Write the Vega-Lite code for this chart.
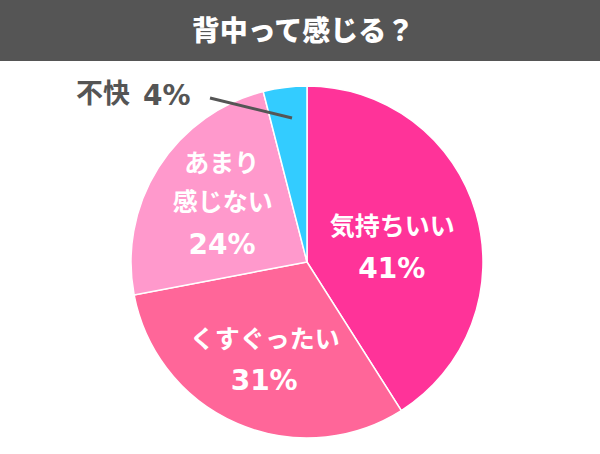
{
  "$schema": "https://vega.github.io/schema/vega-lite/v6.json",
  "width": 600,
  "height": 454,
  "padding": 0,
  "autosize": {"type": "none"},
  "background": "white",
  "config": {"view": {"stroke": null}},
  "data": {"values": [
    {"category": "気持ちいい", "line1": "", "line2": "気持ちいい", "value": 41, "rank": 1},
    {"category": "くすぐったい", "line1": "", "line2": "くすぐったい", "value": 31, "rank": 2},
    {"category": "あまり感じない", "line1": "あまり", "line2": "感じない", "value": 24, "rank": 3},
    {"category": "不快", "line1": "", "line2": "不快", "value": 4, "rank": 4}
  ]},
  "transform": [{"calculate": "datum.value + '%'", "as": "pct"}],
  "layer": [
    {
      "data": {"values": [{"title": "背中って感じる？"}]},
      "mark": {"type": "rect", "color": "#555555"},
      "encoding": {
        "x": {"datum": 0, "type": "quantitative", "scale": {"domain": [0, 600], "nice": false, "zero": false}, "axis": null},
        "x2": {"datum": 600},
        "y": {"datum": 0, "type": "quantitative", "scale": {"domain": [0, 454], "nice": false, "zero": false, "reverse": true}, "axis": null},
        "y2": {"datum": 61}
      }
    },
    {
      "data": {"values": [{"title": "背中って感じる？"}]},
      "mark": {"type": "text", "color": "white", "font": "Noto Sans CJK JP", "fontWeight": 900, "fontSize": 28, "align": "center", "baseline": "middle"},
      "encoding": {
        "x": {"datum": 303, "type": "quantitative"},
        "y": {"datum": 33, "type": "quantitative"},
        "text": {"field": "title"}
      }
    },
    {
      "mark": {"type": "arc", "radius": 176, "stroke": "white", "strokeWidth": 1.5},
      "encoding": {
        "x": {"datum": 307, "type": "quantitative"},
        "y": {"datum": 262, "type": "quantitative"},
        "theta": {"field": "value", "type": "quantitative", "stack": true},
        "order": {"field": "rank", "type": "quantitative"},
        "color": {"field": "category", "type": "nominal", "legend": null,
          "scale": {"domain": ["気持ちいい", "くすぐったい", "あまり感じない", "不快"], "range": ["#FF3399", "#FF6699", "#FF99CC", "#33CCFF"]}}
      }
    },
    {
      "mark": {"type": "text", "radius": 94, "dx": -6, "dy": -48, "color": "white", "font": "Noto Sans CJK JP", "fontWeight": "bold", "fontSize": 25, "align": "center", "baseline": "middle"},
      "encoding": {
        "x": {"datum": 307, "type": "quantitative"},
        "y": {"datum": 262, "type": "quantitative"},
        "theta": {"field": "value", "type": "quantitative", "stack": true},
        "order": {"field": "rank", "type": "quantitative"},
        "text": {"field": "line1"},
        "opacity": {"condition": {"test": "datum.category === '不快'", "value": 0}, "value": 1}
      }
    },
    {
      "mark": {"type": "text", "radius": 94, "dx": -5, "dy": -8.5, "color": "white", "font": "Noto Sans CJK JP", "fontWeight": "bold", "fontSize": 25, "align": "center", "baseline": "middle"},
      "encoding": {
        "x": {"datum": 307, "type": "quantitative"},
        "y": {"datum": 262, "type": "quantitative"},
        "theta": {"field": "value", "type": "quantitative", "stack": true},
        "order": {"field": "rank", "type": "quantitative"},
        "text": {"field": "line2"},
        "opacity": {"condition": {"test": "datum.category === '不快'", "value": 0}, "value": 1}
      }
    },
    {
      "mark": {"type": "text", "radius": 94, "dx": -5.5, "dy": 34, "color": "white", "font": "DejaVu Sans", "fontWeight": "bold", "fontSize": 28, "align": "center", "baseline": "middle"},
      "encoding": {
        "x": {"datum": 307, "type": "quantitative"},
        "y": {"datum": 262, "type": "quantitative"},
        "theta": {"field": "value", "type": "quantitative", "stack": true},
        "order": {"field": "rank", "type": "quantitative"},
        "text": {"field": "pct"},
        "opacity": {"condition": {"test": "datum.category === '不快'", "value": 0}, "value": 1}
      }
    },
    {
      "transform": [{"filter": "datum.category === '不快'"}],
      "mark": {"type": "rule", "color": "#555555", "strokeWidth": 3},
      "encoding": {
        "x": {"datum": 210, "type": "quantitative"},
        "x2": {"datum": 292},
        "y": {"datum": 98, "type": "quantitative"},
        "y2": {"datum": 118}
      }
    },
    {
      "transform": [{"filter": "datum.category === '不快'"}],
      "mark": {"type": "text", "color": "#555555", "font": "Noto Sans CJK JP", "fontWeight": "bold", "fontSize": 27, "align": "left", "baseline": "middle"},
      "encoding": {
        "x": {"datum": 76, "type": "quantitative"},
        "y": {"datum": 95, "type": "quantitative"},
        "text": {"field": "line2"}
      }
    },
    {
      "transform": [{"filter": "datum.category === '不快'"}],
      "mark": {"type": "text", "color": "#555555", "font": "DejaVu Sans", "fontWeight": "bold", "fontSize": 28, "align": "left", "baseline": "middle"},
      "encoding": {
        "x": {"datum": 143, "type": "quantitative"},
        "y": {"datum": 97, "type": "quantitative"},
        "text": {"field": "pct"}
      }
    }
  ]
}
